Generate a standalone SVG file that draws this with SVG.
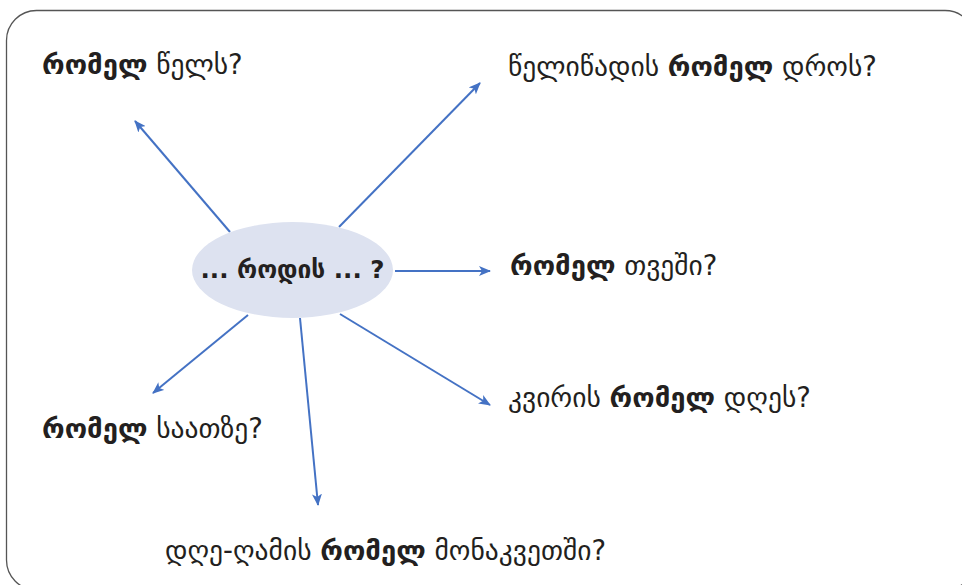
<svg xmlns="http://www.w3.org/2000/svg" width="962" height="585" viewBox="0 0 962 585">
<style>
.t{font-family:"DejaVu Sans","Noto Sans",sans-serif;font-size:27.5px;fill:#231f20}
.m{font-size:24.5px}
.b{font-weight:bold}
.c{stroke:#4472c4;stroke-width:2;fill:none;marker-end:url(#ah)}
</style>
<defs>
<marker id="ah" viewBox="0 0 12 10" refX="11" refY="5" markerWidth="12" markerHeight="10" markerUnits="userSpaceOnUse" orient="auto">
<path d="M0,0 L12,5 L0,10 L3,5 Z" fill="#4472c4"/>
</marker>
</defs>
<rect x="6.5" y="10.5" width="968.5" height="579.5" rx="30" fill="#fff" stroke="#555" stroke-width="1.3"/>
<g id="connectors">
<line class="c" x1="230" y1="232" x2="135" y2="121"/>
<line class="c" x1="339" y1="227" x2="480" y2="83"/>
<line class="c" x1="395" y1="271" x2="490" y2="271"/>
<line class="c" x1="340" y1="314" x2="490" y2="405"/>
<line class="c" x1="300" y1="318" x2="318" y2="505"/>
<line class="c" x1="248" y1="315" x2="153" y2="393"/>
</g>
<g id="center">
<ellipse cx="292.5" cy="270" rx="100.5" ry="48" fill="#dde2f0"/>
<text class="t m b" x="292.5" y="278" text-anchor="middle">... როდის ... ?</text>
</g>
<g id="year"><text class="t" x="42" y="74"><tspan class="b">რომელ</tspan> წელს?</text></g>
<g id="season"><text class="t" x="508" y="76">წელიწადის <tspan class="b">რომელ</tspan> დროს?</text></g>
<g id="month"><text class="t" x="510" y="275"><tspan class="b">რომელ</tspan> თვეში?</text></g>
<g id="weekday"><text class="t" x="508" y="407">კვირის <tspan class="b">რომელ</tspan> დღეს?</text></g>
<g id="hour"><text class="t" x="42" y="438"><tspan class="b">რომელ</tspan> საათზე?</text></g>
<g id="daypart"><text class="t" x="165" y="560">დღე-ღამის <tspan class="b">რომელ</tspan> მონაკვეთში?</text></g>
</svg>
